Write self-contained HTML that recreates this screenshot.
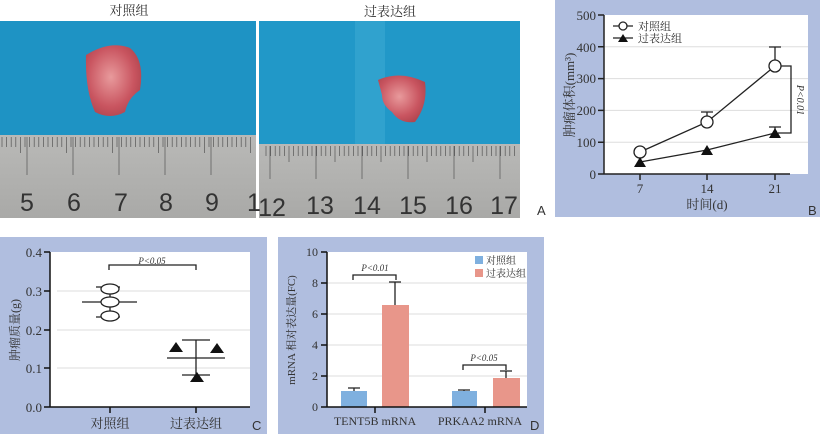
<!DOCTYPE html>
<html><head><meta charset="utf-8"><style>
body{margin:0;background:#fff;width:823px;height:434px;overflow:hidden}
svg{display:block}
text{font-family:"Liberation Serif","Noto Serif CJK SC",serif;fill:#333}
.s{font-family:"Liberation Sans",sans-serif}
</style></head><body>
<svg width="823" height="434" viewBox="0 0 823 434" xmlns="http://www.w3.org/2000/svg">
<defs>
<linearGradient id="ru" x1="0" y1="0" x2="0" y2="1"><stop offset="0" stop-color="#b9b9b7"/><stop offset="1" stop-color="#a9a9a7"/></linearGradient>
<radialGradient id="tu" cx="0.45" cy="0.45" r="0.6"><stop offset="0" stop-color="#e89a9c"/><stop offset="0.7" stop-color="#c95560"/><stop offset="1" stop-color="#b24650"/></radialGradient>
</defs>
<!-- Panel A -->
<text x="129" y="15" font-size="13" text-anchor="middle">对照组</text>
<text x="390" y="16" font-size="13" text-anchor="middle">过表达组</text>
<rect x="0" y="21" width="256" height="115" fill="#1e93c4"/>
<rect x="0" y="135" width="256" height="83" fill="url(#ru)"/>
<rect x="259" y="21" width="261" height="124" fill="#2198c8"/>
<rect x="355" y="21" width="30" height="124" fill="#3aa8d2" opacity="0.6"/>
<rect x="259" y="144" width="261" height="74" fill="url(#ru)"/>
<path d="M86 55 Q110 40 130 48 Q145 60 140 90 Q128 98 125 112 Q110 120 95 112 Q85 90 86 55Z" fill="url(#tu)"/>
<path d="M378 80 Q400 70 425 82 Q428 105 415 122 Q400 124 392 112 Q382 105 382 95 Z" fill="url(#tu)"/>
<g stroke="#555" stroke-width="0.7">
<path d="M2 137v10M6.6 137v10M11.2 137v10M15.8 137v10M20.4 137v16M25 137v10M29.6 137v10M34.2 137v10M38.8 137v10M43.4 137v10M48 137v10M52.6 137v10M57.2 137v10M61.8 137v10M66.4 137v16M71 137v10M75.6 137v10M80.2 137v10M84.8 137v10M89.4 137v10M94 137v10M98.6 137v10M103.2 137v10M107.8 137v10M112.4 137v16M117 137v10M121.6 137v10M126.2 137v10M130.8 137v10M135.4 137v10M140 137v10M144.6 137v10M149.2 137v10M153.8 137v10M158.4 137v16M163 137v10M167.6 137v10M172.2 137v10M176.8 137v10M181.4 137v10M186 137v10M190.6 137v10M195.2 137v10M199.8 137v10M204.4 137v16M209 137v10M213.6 137v10M218.2 137v10M222.8 137v10M227.4 137v10M232 137v10M236.6 137v10M241.2 137v10M245.8 137v10M250.4 137v16"/>
<path d="M27 137v38M73 137v38M119 137v38M165 137v38M211 137v38"/>
<path d="M266 146v10M270.6 146v10M275.2 146v10M279.8 146v10M284.4 146v10M289 146v16M293.6 146v10M298.2 146v10M302.8 146v10M307.4 146v10M312 146v10M316.6 146v10M321.2 146v10M325.8 146v10M330.4 146v10M335 146v16M339.6 146v10M344.2 146v10M348.8 146v10M353.4 146v10M358 146v10M362.6 146v10M367.2 146v10M371.8 146v10M376.4 146v10M381 146v16M385.6 146v10M390.2 146v10M394.8 146v10M399.4 146v10M404 146v10M408.6 146v10M413.2 146v10M417.8 146v10M422.4 146v10M427 146v16M431.6 146v10M436.2 146v10M440.8 146v10M445.4 146v10M450 146v10M454.6 146v10M459.2 146v10M463.8 146v10M468.4 146v10M473 146v16M477.6 146v10M482.2 146v10M486.8 146v10M491.4 146v10M496 146v10M500.6 146v10M505.2 146v10M509.8 146v10M514.4 146v10"/>
<path d="M270 146v33M316 146v33M362 146v33M408 146v33M454 146v33M500 146v33"/>
</g>
<g class="s" font-size="25" fill="#222">
<text class="s" x="27" y="211" text-anchor="middle" fill="#222" font-size="25">5</text>
<text class="s" x="74" y="211" text-anchor="middle" fill="#222" font-size="25">6</text>
<text class="s" x="121" y="211" text-anchor="middle" fill="#222" font-size="25">7</text>
<text class="s" x="166" y="211" text-anchor="middle" fill="#222" font-size="25">8</text>
<text class="s" x="212" y="211" text-anchor="middle" fill="#222" font-size="25">9</text>
<text class="s" x="247" y="211" fill="#d22" font-size="25">1</text>
<text class="s" x="272" y="216" text-anchor="middle" fill="#222" font-size="25">12</text>
<text class="s" x="320" y="214" text-anchor="middle" fill="#222" font-size="25">13</text>
<text class="s" x="367" y="214" text-anchor="middle" fill="#222" font-size="25">14</text>
<text class="s" x="413" y="214" text-anchor="middle" fill="#222" font-size="25">15</text>
<text class="s" x="459" y="214" text-anchor="middle" fill="#222" font-size="25">16</text>
<text class="s" x="504" y="214" text-anchor="middle" fill="#222" font-size="25">17</text>
</g>
<text class="s" x="537" y="215" font-size="13" fill="#111">A</text>

<!-- Panel B -->
<rect x="555" y="0" width="265" height="217" fill="#b0bedf"/>
<rect x="604" y="15" width="204" height="159" fill="#fff"/>
<g stroke="#ddd" stroke-width="1"><path d="M604 46.8H808M604 78.6H808M604 110.4H808M604 142.2H808"/></g>
<g stroke="#222" stroke-width="1.5" fill="none"><path d="M604 15V174H790M598 15h6M598 46.8h6M598 78.6h6M598 110.4h6M598 142.2h6M598 174h6M640 174v6M707 174v6M775 174v6"/></g>
<g font-size="13" text-anchor="end"><text x="596" y="20">500</text><text x="596" y="52">400</text><text x="596" y="83">300</text><text x="596" y="115">200</text><text x="596" y="147">100</text><text x="596" y="179">0</text></g>
<g font-size="13" text-anchor="middle"><text x="640" y="193">7</text><text x="707" y="193">14</text><text x="775" y="193">21</text><text x="707" y="209">时间(d)</text></g>
<text transform="translate(574 95) rotate(-90)" font-size="13" text-anchor="middle">肿瘤体积(mm³)</text>
<g stroke="#222" stroke-width="1.3" fill="none">
<path d="M640 152L707 122L775 66M640 162L707 150L775 133"/>
<path d="M707 122V112M701 112h12M775 66V47M769 47h12M775 133V127M769 127h12"/>
<path d="M778 66h13V133h-13"/>
<circle cx="640" cy="152" r="6" fill="#fff"/><circle cx="707" cy="122" r="6" fill="#fff"/><circle cx="775" cy="66" r="6" fill="#fff"/>
<path d="M613 26h20"/><circle cx="623" cy="26" r="4" fill="#fff"/><path d="M613 38h20"/>
</g>
<g fill="#111"><path d="M634 167l6-10 6 10z M701 155l6-10 6 10z M769 138l6-10 6 10z M618 42l5-8 5 8z"/></g>
<text x="638" y="30" font-size="11">对照组</text><text x="638" y="42" font-size="11">过表达组</text>
<text transform="translate(797 100) rotate(90)" font-size="10" text-anchor="middle" font-style="italic">P&lt;0.01</text>
<text class="s" x="808" y="215" font-size="13" fill="#111">B</text>

<!-- Panel C -->
<rect x="0" y="237" width="267" height="197" fill="#b0bedf"/>
<rect x="50" y="252" width="200" height="155" fill="#fff"/>
<g stroke="#ddd"><path d="M57 291H250M57 330H250M57 368H250"/></g>
<g stroke="#111" stroke-width="1.5" fill="none"><path d="M50 252V407H250M44 252h6M44 291h6M44 330h6M44 368h6M44 407h6M110 407v6M196 407v6"/></g>
<g font-size="13" text-anchor="end"><text x="42" y="257">0.4</text><text x="42" y="296">0.3</text><text x="42" y="335">0.2</text><text x="42" y="373">0.1</text><text x="42" y="412">0.0</text></g>
<g font-size="13" text-anchor="middle"><text x="110" y="428">对照组</text><text x="196" y="428">过表达组</text></g>
<text transform="translate(19 330) rotate(-90)" font-size="12" text-anchor="middle">肿瘤质量(g)</text>
<g stroke="#222" stroke-width="1.3" fill="none">
<path d="M109 270v-5h87v5"/>
<path d="M82 302h55M110 287V317M96 287h24M96 317h24"/>
<path d="M167 358h58M196 340V375M182 340h28M182 375h28"/>
</g>
<g stroke="#222" stroke-width="1.3" fill="#fff"><ellipse cx="110" cy="289" rx="9" ry="5"/><ellipse cx="110" cy="302" rx="9" ry="5"/><ellipse cx="110" cy="316" rx="9" ry="5"/></g>
<g fill="#111"><path d="M169 352l7-10 7 10zM210 353l7-10 7 10zM190 382l7-10 7 10z"/></g>
<text x="152" y="264" font-size="9" text-anchor="middle" font-style="italic">P&lt;0.05</text>
<text class="s" x="252" y="430" font-size="13" fill="#111">C</text>

<!-- Panel D -->
<rect x="278" y="237" width="266" height="197" fill="#b0bedf"/>
<rect x="327" y="252" width="200" height="155" fill="#fff"/>
<g stroke="#ddd"><path d="M327 283H527M327 314H527M327 345H527M327 376H527"/></g>
<rect x="341" y="391" width="26" height="16" fill="#7fb0df"/>
<rect x="382" y="305" width="27" height="102" fill="#e8968a"/>
<rect x="452" y="391" width="25" height="16" fill="#7fb0df"/>
<rect x="493" y="378" width="27" height="29" fill="#e8968a"/>
<g stroke="#111" stroke-width="1.5" fill="none"><path d="M327 252V407H527M321 252h6M321 283h6M321 314h6M321 345h6M321 376h6M321 407h6M375 407v6M485 407v6"/></g>
<g stroke="#222" stroke-width="1.3" fill="none">
<path d="M354 391v-3M348 388h12M395 305V282M389 282h12M464 391v-1M458 390h12M506 378V371M500 371h12"/>
<path d="M353 280v-5h43v5M463 370v-5h43v5"/>
</g>
<g font-size="12" text-anchor="end"><text x="318" y="256">10</text><text x="318" y="287">8</text><text x="318" y="318">6</text><text x="318" y="349">4</text><text x="318" y="380">2</text><text x="318" y="411">0</text></g>
<g font-size="12" text-anchor="middle"><text x="375" y="425">TENT5B mRNA</text><text x="480" y="425">PRKAA2 mRNA</text></g>
<text transform="translate(295 330) rotate(-90)" font-size="11" text-anchor="middle">mRNA 相对表达量(FC)</text>
<text x="375" y="271" font-size="9" text-anchor="middle" font-style="italic">P&lt;0.01</text>
<text x="484" y="361" font-size="9" text-anchor="middle" font-style="italic">P&lt;0.05</text>
<rect x="475" y="256" width="8" height="8" fill="#7fb0df"/><rect x="475" y="269" width="8" height="8" fill="#e8968a"/>
<text x="486" y="264" font-size="10">对照组</text><text x="486" y="277" font-size="10">过表达组</text>
<text class="s" x="530" y="430" font-size="13" fill="#111">D</text>
</svg>
</body></html>
